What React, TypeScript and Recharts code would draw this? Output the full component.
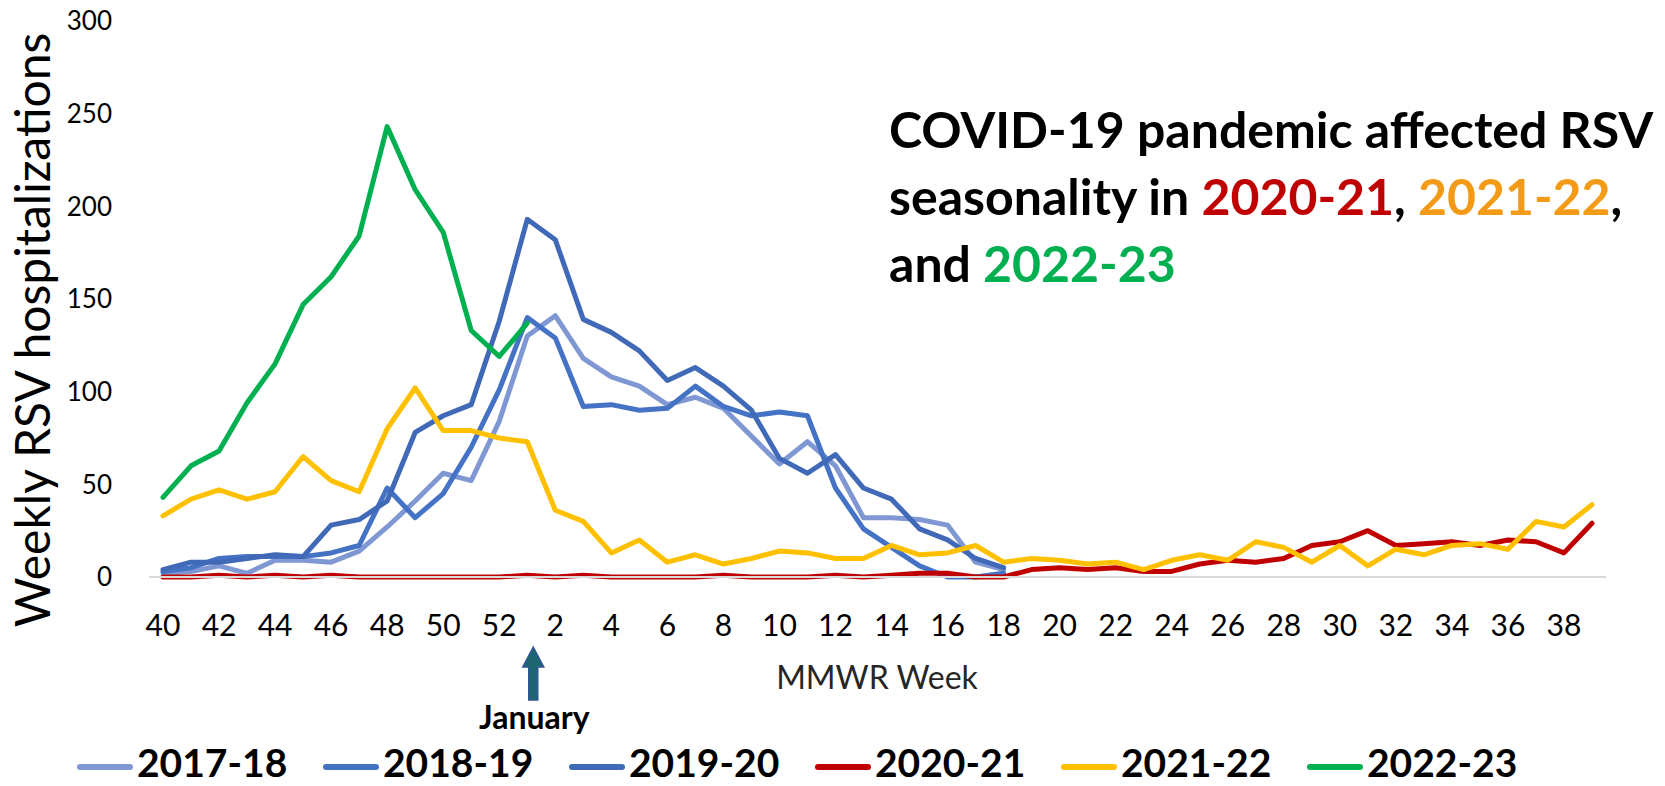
import { LineChart, Line, XAxis, YAxis, ReferenceLine } from 'recharts'

const FONT = 'Lato, "Open Sans", sans-serif'

// MMWR weeks, season runs week 40 through week 39 of the next year
const weeks = [
  40, 41, 42, 43, 44, 45, 46, 47, 48, 49, 50, 51, 52,
  1, 2, 3, 4, 5, 6, 7, 8, 9, 10, 11, 12, 13, 14, 15, 16, 17, 18, 19, 20,
  21, 22, 23, 24, 25, 26, 27, 28, 29, 30, 31, 32, 33, 34, 35, 36, 37, 38, 39,
]

// weekly RSV hospitalizations per season (blue seasons stop at week 18)
const season1718 = [2, 3, 6, 2, 9, 9, 8, 14, 27, 41, 56, 52, 84, 130, 141, 118, 108, 103, 93, 97, 91, 76, 61, 73, 60, 32, 32, 31, 28, 8, 4]
const season1819 = [3, 5, 10, 11, 11, 11, 13, 17, 48, 32, 45, 70, 101, 140, 129, 92, 93, 90, 91, 103, 92, 87, 89, 87, 48, 26, 16, 6, 0, 0, 2]
const season1920 = [4, 8, 8, 10, 12, 11, 28, 31, 41, 78, 87, 93, 138, 193, 182, 139, 132, 122, 106, 113, 103, 90, 64, 56, 66, 48, 42, 26, 20, 10, 5]
const season2021 = [
  0, 0, 1, 0, 1, 0, 1, 0, 0, 0, 0, 0, 0, 1, 0, 1, 0, 0, 0, 0, 1, 0, 0, 0, 1, 0,
  1, 2, 2, 0, 0, 4, 5, 4, 5, 3, 3, 7, 9, 8, 10, 17, 19, 25, 17, 18, 19, 17, 20, 19, 13, 29,
]
const season2122 = [
  33, 42, 47, 42, 46, 65, 52, 46, 80, 102, 79, 79, 75, 73, 36, 30, 13, 20, 8, 12, 7, 10, 14, 13, 10, 10,
  17, 12, 13, 17, 8, 10, 9, 7, 8, 4, 9, 12, 9, 19, 16, 8, 17, 6, 15, 12, 17, 18, 15, 30, 27, 39,
]
const season2223 = [43, 60, 68, 94, 115, 147, 162, 184, 243, 209, 186, 133, 119, 137]

const yTicks = [0, 50, 100, 150, 200, 250, 300]

const seriesList = [
  { key: 's1718', name: '2017-18', color: '#7F98D4', values: season1718 },
  { key: 's1819', name: '2018-19', color: '#4472C4', values: season1819 },
  { key: 's1920', name: '2019-20', color: '#4069B8', values: season1920 },
  { key: 's2021', name: '2020-21', color: '#C00000', values: season2021 },
  { key: 's2122', name: '2021-22', color: '#FFC000', values: season2122 },
  { key: 's2223', name: '2022-23', color: '#00B050', values: season2223 },
]

const rows = weeks.map((w, i) => {
  const row: Record<string, number | null> = { week: w }
  for (const s of seriesList) row[s.key] = s.values[i] ?? null
  return row
})

// arrow + "January" hung under the week-1 position of the x axis
function JanuaryArrow(props: any) {
  const vb = props.viewBox || {}
  const cx = vb.x + 6
  const b = vb.y + vb.height
  const d = `M${cx} ${b + 70} L${cx + 10.5} ${b + 90} L${cx + 4.5} ${b + 90} L${cx + 4.5} ${b + 123} ` +
    `L${cx - 4.5} ${b + 123} L${cx - 4.5} ${b + 90} L${cx - 10.5} ${b + 90} Z`
  return (
    <g>
      <path d={d} fill="#1D6672" stroke="#2F5597" strokeWidth={1.5} strokeLinejoin="miter" />
      <text x={cx + 1} y={b + 152} textAnchor="middle" fontFamily={FONT} fontWeight="bold" fontSize={32} fill="#000">
        January
      </text>
    </g>
  )
}

export default function App() {
  return (
    <div style={{ position: 'absolute', left: 0, top: 0, width: 1665, height: 786, background: '#fff' }}>
      <LineChart width={1665} height={786} data={rows} margin={{ top: 21, right: 59, left: 69, bottom: 149 }}>
        <XAxis
          dataKey="week"
          interval={1}
          height={60}
          padding={{ left: 14, right: 14 }}
          tickLine={false}
          axisLine={{ stroke: '#D9D9D9', strokeWidth: 2 }}
          tickMargin={32}
          tick={{ fontSize: 30, fill: '#000', fontFamily: FONT }}
        />
        <YAxis
          width={80}
          domain={[0, 300]}
          ticks={yTicks}
          axisLine={false}
          tickLine={false}
          tickMargin={31}
          tick={{ fontSize: 26, fill: '#000', fontFamily: FONT }}
        />
        <ReferenceLine x={1} stroke="none" ifOverflow="visible" label={JanuaryArrow} />
        {seriesList.map(s => (
          <Line
            key={s.key}
            type="linear"
            dataKey={s.key}
            name={s.name}
            stroke={s.color}
            strokeWidth={5}
            strokeLinejoin="round"
            strokeLinecap="round"
            dot={false}
            activeDot={false}
            isAnimationActive={false}
          />
        ))}
      </LineChart>

      <svg width={1665} height={786} style={{ position: 'absolute', left: 0, top: 0, pointerEvents: 'none' }}>
        <text transform="translate(50 330) rotate(-90)" textAnchor="middle" fontFamily={FONT} fontSize={48} fill="#000">
          Weekly RSV hospitalizations
        </text>
        <text x={877} y={689} textAnchor="middle" fontFamily={FONT} fontSize={32} fill="#262626">
          MMWR Week
        </text>

        <g fontFamily={FONT} fontWeight="bold" fontSize={50} fill="#000">
          <text x={889} y={148}>COVID-19 pandemic affected RSV</text>
          <text x={889} y={215}>
            seasonality in <tspan fill="#C00000">2020-21</tspan>, <tspan fill="#F39B17">2021-22</tspan>,
          </text>
          <text x={889} y={282}>
            and <tspan fill="#00B050">2022-23</tspan>
          </text>
        </g>

        {seriesList.map((s, i) => {
          const x0 = 77 + i * 246
          return (
            <g key={s.key}>
              <line x1={x0 + 3} y1={767} x2={x0 + 53} y2={767} stroke={s.color} strokeWidth={6} strokeLinecap="round" />
              <text x={x0 + 60} y={777} fontFamily={FONT} fontWeight="bold" fontSize={39} fill="#000">
                {s.name}
              </text>
            </g>
          )
        })}
      </svg>
    </div>
  )
}
